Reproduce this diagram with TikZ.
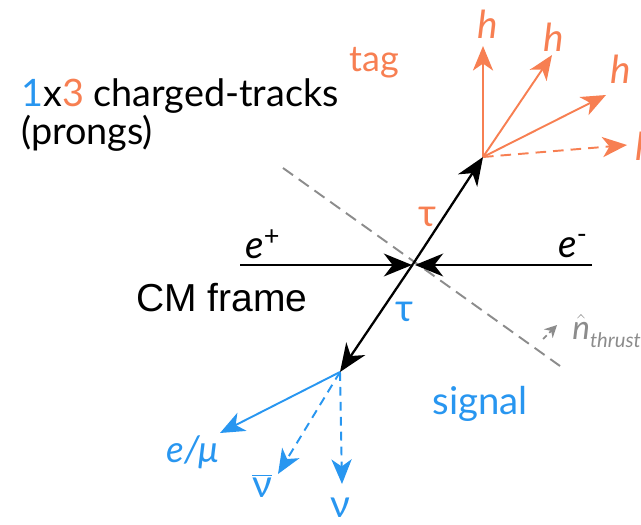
\documentclass[tikz,border=0pt]{standalone}
\usepackage{fontspec}
\setmainfont{Lato}
\newfontfamily\cmfont{Liberation Sans}
\usetikzlibrary{arrows.meta}
\definecolor{tagorange}{RGB}{247,127,82}
\definecolor{sigblue}{RGB}{40,150,240}
\definecolor{thrustgray}{RGB}{140,140,140}
\tikzset{
  beam/.style={line width=1.3pt, -{Stealth[length=16pt,width=13pt,inset=5pt]}},
  tagtrk/.style={tagorange, line width=1.1pt, -{Stealth[length=14pt,width=11.5pt,inset=4pt]}},
  sigtrk/.style={sigblue, line width=1.1pt, -{Stealth[length=14pt,width=11.5pt,inset=4pt]}},
  lbl/.style={font=\fontsize{22}{24}\selectfont},
}
\begin{document}
\begin{tikzpicture}[x=0.02cm, y=-0.02cm]
\useasboundingbox (0,0) rectangle (641,524);
% vertices
\coordinate (ip) at (413,264);
\coordinate (tagvtx) at (483,157);
\coordinate (sigvtx) at (340,372);
\coordinate (epin) at (240,265);
\coordinate (emin) at (592,265);
\coordinate (ipl) at (412,265);
\coordinate (ipr) at (415,265);
% thrust axis
\coordinate (thrA) at (283,168);
\coordinate (thrB) at (560,366);
\draw[thrustgray, line width=1.1pt, dash pattern=on 7pt off 4pt] (thrA) -- (thrB);
% beams
\draw[beam] (epin) -- (ipl);
\draw[beam] (emin) -- (ipr);
\node[lbl] (eplus) at (263,244) {\textit{e}\textsuperscript{+}};
\node[lbl] (eminus) at (573,246) {\textit{e}\textsuperscript{-}};
% taus
\draw[beam] (ip) -- (tagvtx);
\draw[beam] (ip) -- (sigvtx);
\node[lbl, tagorange] (tautag) at (428,217) {τ};
\node[lbl, sigblue] (tausig) at (405,312) {τ};
% tag side hadrons
\coordinate (h1) at (483,46);
\coordinate (h2) at (552,55);
\coordinate (h3) at (606,95);
\coordinate (h4) at (627,145);
\draw[tagtrk] (tagvtx) -- (h1);
\draw[tagtrk] (tagvtx) -- (h2);
\draw[tagtrk] (tagvtx) -- (h3);
\draw[tagtrk, dash pattern=on 6pt off 4pt] (tagvtx) -- (h4);
\node[lbl, tagorange] (lh1) at (488,24) {\textit{h}};
\node[lbl, tagorange] (lh2) at (554,37) {\textit{h}};
\node[lbl, tagorange] (lh3) at (621,69) {\textit{h}};
\node[lbl, tagorange] (lh4) at (646,146) {\textit{h}};
% signal side
\coordinate (lep) at (220,433);
\coordinate (nubar) at (278,474);
\coordinate (nu) at (342,484);
\draw[sigtrk] (sigvtx) -- (lep);
\draw[sigtrk, dash pattern=on 5pt off 3.5pt] (sigvtx) -- (nubar);
\draw[sigtrk, dash pattern=on 5pt off 3.5pt] (sigvtx) -- (nu);
\node[sigblue, font=\fontsize{21}{24}\selectfont] (llep) at (193,452) {\textit{e/μ}};
\node[lbl, sigblue] (lnubar) at (262,486) {$\overline{\hbox{ν}}$};
\node[lbl, sigblue] (lnu) at (340,508) {ν};
% thrust label
\coordinate (nA) at (543,339);
\coordinate (nB) at (557,325);
\draw[thrustgray, line width=1pt, dash pattern=on 3pt off 2pt, -{Stealth[length=7pt,width=7pt]}] (nA) -- (nB);
\node[thrustgray, anchor=west, inner sep=0pt, font=\fontsize{19}{20}\selectfont] (nthr) at (572,331) {$\hat{\hbox{\textit{n}}}$\raisebox{-0.45ex}{\fontsize{11.5}{12}\selectfont\textit{thrust}}};
% texts
\node[anchor=north west, align=left, font=\fontsize{21.5}{20.5}\selectfont, inner sep=0pt] (prongs) at (21,78)
  {\textcolor{sigblue}{1}x\textcolor{tagorange}{3} charged-tracks\\(prongs)};
\node[tagorange, font=\fontsize{20.5}{22}\selectfont] (tag) at (374,63) {tag};
\node[font=\cmfont\fontsize{22.2}{24}\selectfont] (cm) at (222,298) {CM frame};
\node[sigblue, font=\fontsize{21.8}{24}\selectfont] (signal) at (480,404) {signal};
\end{tikzpicture}
\end{document}
